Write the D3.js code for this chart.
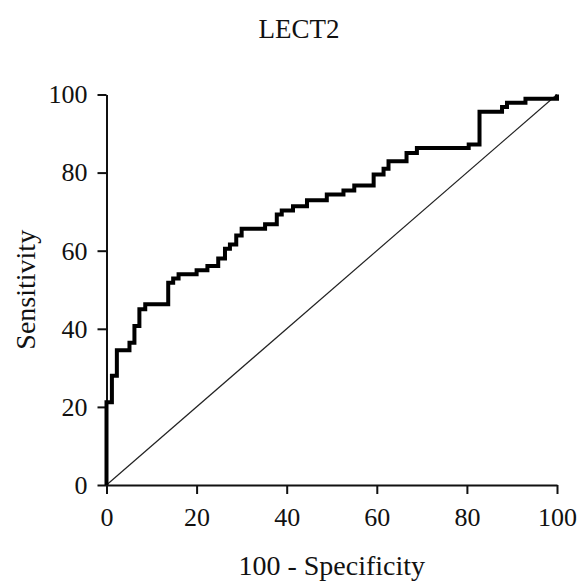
<!DOCTYPE html>
<html>
<head>
<meta charset="utf-8">
<script src="https://cdn.jsdelivr.net/npm/d3@7"></script>
<style>
  body { margin: 0; background: #fff; }
  svg { display: block; font-family: "Liberation Serif", "Times New Roman", serif; }
</style>
</head>
<body>
<svg id="chart" width="581" height="581"></svg>
<script>
// Dados da curva ROC
const titulo = "LECT2";
const fpr = [0, 0, 1.2, 2.3, 5.1, 6.2, 7.3, 8.6, 13.7, 14.8, 16, 20, 22.4, 24.8, 26.3, 27.4, 28.8, 30, 35.2, 37.8,
             38.9, 41.4, 44.5, 48.9, 52.6, 55, 59.3, 61.5, 62.6, 66.6, 68.9, 80.4, 82.8, 87.8, 88.9, 93, 100];
const tpr = [0, 21.2, 28, 34.5, 36.4, 40.7, 45, 46.3, 51.8, 52.9, 54, 55, 56.1, 58, 60.5, 61.6, 63.9, 65.6, 66.8, 69.3,
             70.3, 71.4, 72.9, 74.4, 75.4, 76.7, 79.5, 81, 82.9, 85, 86.3, 87.2, 95.6, 96.8, 97.9, 98.9, 100];
const referencia = [0, 100]; // linha diagonal
const ticks = [0, 20, 40, 60, 80, 100];

const svg = d3.select("#chart");
const margin = { left: 106.5, top: 94.5, right: 24, bottom: 96 };
const W = 581, H = 581;

const x = d3.scaleLinear().domain([0, 100]).range([margin.left, W - margin.right]);
const y = d3.scaleLinear().domain([0, 100]).range([H - margin.bottom, margin.top]);

// Eixos
const xAxis = svg.append("g")
    .attr("transform", `translate(0,${H - margin.bottom})`)
    .call(d3.axisBottom(x).tickValues(ticks).tickSize(9).tickSizeOuter(0).tickPadding(14));
const yAxis = svg.append("g")
    .attr("transform", `translate(${margin.left},0)`)
    .call(d3.axisLeft(y).tickValues(ticks).tickSize(9).tickSizeOuter(0).tickPadding(10));

[xAxis, yAxis].forEach(g => {
    g.selectAll(".domain, line").attr("stroke", "#111").attr("stroke-width", 2);
    g.selectAll("text").attr("font-family", "Liberation Serif").attr("font-size", 26).attr("fill", "#111");
});

// Diagonal de referência
svg.append("line")
    .attr("x1", x(referencia[0])).attr("y1", y(referencia[0]))
    .attr("x2", x(referencia[1])).attr("y2", y(referencia[1]))
    .attr("stroke", "#222").attr("stroke-width", 1.2);

// Curva ROC em degraus
const pts = fpr.map((v, i) => [v, tpr[i]]);
const line = d3.line()
    .x(d => x(d[0]))
    .y(d => y(d[1]))
    .curve(d3.curveStepAfter);

svg.append("path")
    .datum(pts)
    .attr("fill", "none")
    .attr("stroke", "#000")
    .attr("stroke-width", 4)
    .attr("stroke-linejoin", "miter")
    .attr("d", line);

// Textos
svg.append("text")
    .attr("x", 299).attr("y", 38)
    .attr("text-anchor", "middle")
    .attr("font-size", 27).attr("fill", "#111")
    .text(titulo);

svg.append("text")
    .attr("x", (x(0) + x(100)) / 2).attr("y", 575)
    .attr("text-anchor", "middle")
    .attr("font-size", 28).attr("fill", "#111")
    .text("100 - Specificity");

svg.append("text")
    .attr("transform", `translate(35,${(y(0) + y(100)) / 2}) rotate(-90)`)
    .attr("text-anchor", "middle")
    .attr("font-size", 28).attr("fill", "#111")
    .text("Sensitivity");
</script>
</body>
</html>
